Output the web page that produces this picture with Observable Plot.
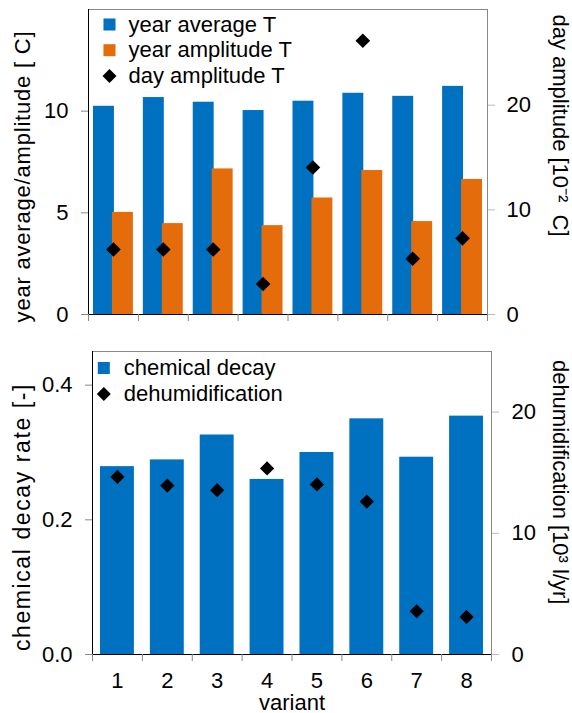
<!DOCTYPE html>
<html><head><meta charset="utf-8">
<script src="https://cdn.jsdelivr.net/npm/d3@7"></script>
<script src="https://cdn.jsdelivr.net/npm/@observablehq/plot@0.6"></script>
<style>
body{margin:0;background:#fff;}
#chart svg{display:block;}
</style></head><body><div id="chart"></div>
<script>
// ---- data ----
const variants = [1, 2, 3, 4, 5, 6, 7, 8];
const yearAverage = [10.24, 10.67, 10.44, 10.03, 10.49, 10.88, 10.73, 11.22];
const yearAmplitude = [5.02, 4.47, 7.16, 4.37, 5.73, 7.08, 4.57, 6.64];
const dayAmplitude = [6.21, 6.21, 6.21, 2.91, 14.04, 26.15, 5.33, 7.28];   // 10^-2 C
const chemicalDecay = [0.279, 0.289, 0.326, 0.260, 0.300, 0.350, 0.293, 0.354];
const dehumidification = [14.65, 13.94, 13.56, 15.35, 14.03, 12.62, 3.57, 3.10]; // 10^3 l/yr
const leftTicksTop = [0, 5, 10];
const rightTicksTop = [0, 10, 20];
const leftTicksBottom = [0, 0.2, 0.4];
const rightTicksBottom = [0, 10, 20];
const topLegend = ["year average T", "year amplitude T", "day amplitude T"];
const bottomLegend = ["chemical decay", "dehumidification"];
const titles = {
  topLeft: "year average/amplitude [ C]",
  topRight: "day amplitude [10\u207B\u00B2  C]",
  bottomLeft: "chemical decay rate [-]",
  bottomRight: "dehumidification [10\u00B3 l/yr]",
  x: "variant"
};

// ---- styling ----
const FONT = "Arial, 'Liberation Sans', Helvetica, sans-serif";
const BLUE = "#0070C0", ORANGE = "#E46C0A";
const FS = 22;
const xDomain = [0.5, 8.5];
const boundaries = variants.map(v => v - 0.5).concat([variants[variants.length - 1] + 0.5]);

const topMax = 15, topRightMax = 29.14, kTop = topMax / topRightMax;
const botMax = 0.45, botRightMax = 25, kBot = botMax / botRightMax;

const topData = variants.map((v, i) => ({v, avg: yearAverage[i], amp: yearAmplitude[i], day: dayAmplitude[i]}));
const botData = variants.map((v, i) => ({v, chem: chemicalDecay[i], dehum: dehumidification[i]}));

function legend(items, {dx0, dy0, step, textDx}) {
  return items.flatMap((it, i) => [
    Plot.dot([it], {frameAnchor: "top-left", dx: dx0, dy: dy0 + i * step, symbol: it.symbol, fill: it.color, r: it.r}),
    Plot.text([it.label], {frameAnchor: "top-left", dx: textDx, dy: dy0 + i * step, text: d => d,
      textAnchor: "start", lineAnchor: "middle", fontSize: FS, fontFamily: FONT, fill: "black"})
  ]);
}

function title(str, {anchor, dx, dy, rotate, fontSize = FS}) {
  return Plot.text([str], {frameAnchor: anchor, dx, dy, rotate, text: d => d,
    textAnchor: "middle", lineAnchor: "middle", fontSize, fontFamily: FONT, fill: "black"});
}

const style = {fontFamily: FONT, fontSize: FS + "px", color: "black", background: "white", overflow: "visible"};

const topPlot = Plot.plot({
  width: 572, height: 339,
  marginLeft: 88, marginRight: 85, marginTop: 9, marginBottom: 25,
  style,
  x: {type: "linear", domain: xDomain},
  y: {domain: [0, topMax]},
  marks: [
    Plot.rectY(topData, {x1: d => d.v - 0.4, x2: d => d.v + 0.02, y: "avg", fill: BLUE}),
    Plot.rectY(topData, {x1: d => d.v - 0.02, x2: d => d.v + 0.4, y: "amp", fill: ORANGE}),
    Plot.dot(topData, {x: "v", y: d => d.day * kTop, symbol: "diamond2", r: 6.6, fill: "black"}),
    Plot.frame({stroke: "#888"}),
    Plot.frame({anchor: "left", stroke: "black"}),
    Plot.frame({anchor: "bottom", stroke: "black"}),
    Plot.axisX({ticks: boundaries, tickSize: 7, tickFormat: () => "", stroke: "#888", label: null}),
    Plot.axisY({ticks: leftTicksTop, tickSize: 7, tickPadding: 13, stroke: "#888", fill: "black",
      fontSize: FS, label: null, tickFormat: d => String(d)}),
    Plot.axisY({anchor: "right", ticks: rightTicksTop.map(t => t * kTop), tickFormat: d => String(Math.round(d / kTop)),
      tickSize: 7, tickPadding: 12, stroke: "#bbb", fill: "black", fontSize: FS, label: null}),
    ...legend([
      {label: topLegend[0], symbol: "square", color: BLUE, r: 6.8},
      {label: topLegend[1], symbol: "square", color: ORANGE, r: 6.8},
      {label: topLegend[2], symbol: "diamond2", color: "black", r: 6.3}
    ], {dx0: 21, dy0: 15, step: 25.7, textDx: 40}),
    title(titles.topLeft, {anchor: "left", dx: -66, dy: 14.5, rotate: -90}),
    title(titles.topRight, {anchor: "right", dx: 73, dy: -36.5, rotate: 90})
  ]
});

const botPlot = Plot.plot({
  width: 572, height: 374,
  marginLeft: 92, marginRight: 81, marginTop: 12, marginBottom: 59,
  style,
  x: {type: "linear", domain: xDomain},
  y: {domain: [0, botMax]},
  marks: [
    Plot.rectY(botData, {x1: d => d.v - 0.34, x2: d => d.v + 0.34, y: "chem", fill: BLUE}),
    Plot.dot(botData, {x: "v", y: d => d.dehum * kBot, symbol: "diamond2", r: 6.4, fill: "black"}),
    Plot.frame({stroke: "#888"}),
    Plot.frame({anchor: "left", stroke: "black"}),
    Plot.frame({anchor: "bottom", stroke: "black"}),
    Plot.axisX({ticks: boundaries, tickSize: 7, tickFormat: () => "", stroke: "#888", label: null}),
    Plot.axisX({ticks: variants, tickSize: 0, tickPadding: 18, fontSize: FS, fill: "black", label: null,
      tickFormat: d => String(d)}),
    Plot.axisY({ticks: leftTicksBottom, tickSize: 7, tickPadding: 13, stroke: "#888", fill: "black",
      fontSize: FS, label: null, tickFormat: d3.format(".1f")}),
    Plot.axisY({anchor: "right", ticks: rightTicksBottom.map(t => t * kBot), tickFormat: d => String(Math.round(d / kBot)),
      tickSize: 7, tickPadding: 13, stroke: "#bbb", fill: "black", fontSize: FS, label: null}),
    ...legend([
      {label: bottomLegend[0], symbol: "square", color: BLUE, r: 6.8},
      {label: bottomLegend[1], symbol: "diamond2", color: "black", r: 6.3}
    ], {dx0: 11.3, dy0: 16.5, step: 26, textDx: 31.3}),
    title(titles.bottomLeft, {anchor: "left", dx: -70, dy: 14, rotate: -90, fontSize: 23}),
    title(titles.bottomRight, {anchor: "right", dx: 69, dy: -20.8, rotate: 90}),
    Plot.text([titles.x], {frameAnchor: "bottom", dy: 48, text: d => d, lineAnchor: "middle",
      fontSize: FS, fontFamily: FONT, fill: "black"})
  ]
});

// widen the letter spacing of the two left titles, as in the reference
function spaceOut(svg, str, px) {
  d3.select(svg).selectAll("text").filter(function() { return this.textContent === str; })
    .attr("letter-spacing", px);
}
spaceOut(topPlot, titles.topLeft, 0.8);
spaceOut(botPlot, titles.bottomLeft, 1.6);

const chart = document.getElementById("chart");
chart.append(topPlot, botPlot);
</script>
</body></html>
